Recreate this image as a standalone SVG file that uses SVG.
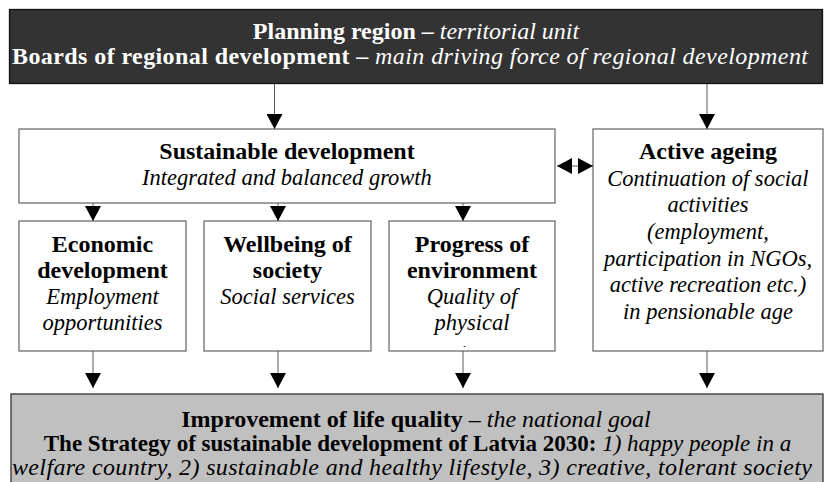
<svg xmlns="http://www.w3.org/2000/svg" width="825" height="482" viewBox="0 0 825 482">
<style>
  text { font-family: "Liberation Serif", "Times New Roman", serif; font-size: 24px; text-anchor: middle; fill: #000; }
  .b { font-weight: bold; }
  .i { font-style: italic; }
  .s { font-size: 22.5px; }
  .w { fill: #fff; }
  .box { fill: #fff; stroke: #6e6e6e; stroke-width: 1.3; }
  .line { stroke: #5a5a5a; stroke-width: 1; fill: none; }
</style>
<defs>
  <marker id="ah" markerWidth="16" markerHeight="16" viewBox="0 0 16 16" refX="15" refY="8" orient="auto" markerUnits="userSpaceOnUse">
    <path d="M0,0 L15,8 L0,16 Z" fill="#000"/>
  </marker>
  <clipPath id="clipProg"><rect x="390" y="222" width="164" height="125"/></clipPath>
</defs>

<g id="top">
  <rect x="9.5" y="9.5" width="813" height="74" fill="#333333" stroke="#111" stroke-width="1.3"/>
  <text x="416" y="39" class="w"><tspan class="b">Planning region – </tspan><tspan class="i">territorial unit</tspan></text>
  <text x="410" y="64" class="w" textLength="796" lengthAdjust="spacing"><tspan class="b">Boards of regional development – </tspan><tspan class="i">main driving force of regional development</tspan></text>
</g>

<g id="sustainable">
  <rect class="box" x="19" y="129" width="536" height="74"/>
  <text x="287" y="159" class="b">Sustainable development</text>
  <text x="287" y="185" class="i s">Integrated and balanced growth</text>
</g>

<g id="economic">
  <rect class="box" x="19" y="221" width="167" height="130"/>
  <text x="102.5" y="252" class="b">Economic</text>
  <text x="102.5" y="278" class="b">development</text>
  <text x="102.5" y="304" class="i s">Employment</text>
  <text x="102.5" y="330" class="i s">opportunities</text>
</g>

<g id="wellbeing">
  <rect class="box" x="204" y="221" width="167" height="130"/>
  <text x="287.5" y="252" class="b">Wellbeing of</text>
  <text x="287.5" y="278" class="b">society</text>
  <text x="287.5" y="304" class="i s">Social services</text>
</g>

<g id="progress">
  <rect class="box" x="389" y="221" width="166" height="130"/>
  <text x="472" y="252" class="b">Progress of</text>
  <text x="472" y="278" class="b">environment</text>
  <text x="472" y="304" class="i s">Quality of</text>
  <text x="472" y="330" class="i s">physical</text>
  <g clip-path="url(#clipProg)">
    <text x="429" y="361" class="i s" style="text-anchor:start">environment</text>
  </g>
</g>

<g id="ageing">
  <rect class="box" x="593" y="129" width="230" height="222"/>
  <text x="708" y="159" class="b">Active ageing</text>
  <text x="708" y="186" class="i s">Continuation of social</text>
  <text x="708" y="212" class="i s">activities</text>
  <text x="708" y="239" class="i s">(employment,</text>
  <text x="708" y="266" class="i s">participation in NGOs,</text>
  <text x="708" y="292" class="i s">active recreation etc.)</text>
  <text x="708" y="319" class="i s">in pensionable age</text>
</g>

<g id="goal">
  <rect x="11" y="394" width="812" height="90" fill="#c0c0c0" stroke="#333" stroke-width="1.3"/>
  <text x="416" y="427"><tspan class="b">Improvement of life quality</tspan><tspan> – </tspan><tspan class="i">the national goal</tspan></text>
  <text x="417.5" y="451" style="font-size:23px"><tspan class="b">The Strategy of sustainable development of Latvia 2030:</tspan><tspan class="i"> 1) happy people in a</tspan></text>
  <text x="412" y="475" class="i" textLength="800" lengthAdjust="spacing">welfare country, 2) sustainable and healthy lifestyle, 3) creative, tolerant society</text>
</g>

<g id="connectors">
  <line class="line" x1="274.5" y1="84" x2="274.5" y2="129" marker-end="url(#ah)"/>
  <line class="line" x1="707" y1="84" x2="707" y2="129" marker-end="url(#ah)"/>
  <line class="line" x1="93" y1="203" x2="93" y2="221" marker-end="url(#ah)"/>
  <line class="line" x1="278" y1="203" x2="278" y2="221" marker-end="url(#ah)"/>
  <line class="line" x1="463" y1="203" x2="463" y2="221" marker-end="url(#ah)"/>
  <line class="line" x1="93" y1="351" x2="93" y2="388" marker-end="url(#ah)"/>
  <line class="line" x1="278" y1="351" x2="278" y2="388" marker-end="url(#ah)"/>
  <line class="line" x1="463" y1="351" x2="463" y2="388" marker-end="url(#ah)"/>
  <line class="line" x1="707" y1="351" x2="707" y2="388" marker-end="url(#ah)"/>
  <line class="line" x1="575" y1="166" x2="557" y2="166" marker-end="url(#ah)"/>
  <line class="line" x1="575" y1="166" x2="593" y2="166" marker-end="url(#ah)"/>
</g>
</svg>
